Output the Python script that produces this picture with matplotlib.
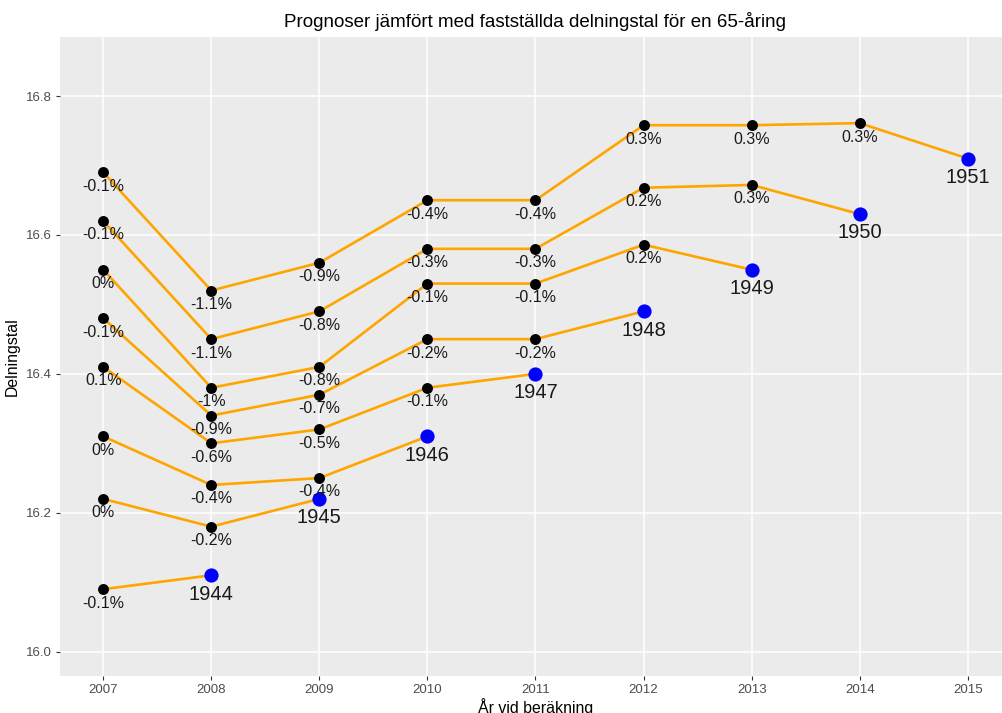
import matplotlib.pyplot as plt

plt.rcParams['font.family'] = ['Liberation Sans', 'DejaVu Sans']

# cohort (birth year) -> forecasts made 2007.. and the final fixed value
cohorts = [1944, 1945, 1946, 1947, 1948, 1949, 1950, 1951]
calc_years = [2007, 2008, 2009, 2010, 2011, 2012, 2013, 2014, 2015]

values = [
    [16.09, 16.11],
    [16.22, 16.18, 16.22],
    [16.31, 16.24, 16.25, 16.31],
    [16.41, 16.30, 16.32, 16.38, 16.40],
    [16.48, 16.34, 16.37, 16.45, 16.45, 16.49],
    [16.55, 16.38, 16.41, 16.53, 16.53, 16.586, 16.55],
    [16.62, 16.45, 16.49, 16.58, 16.58, 16.668, 16.672, 16.63],
    [16.69, 16.52, 16.56, 16.65, 16.65, 16.758, 16.758, 16.761, 16.71],
]

pct_labels = [
    ["-0.1%"],
    ["0%", "-0.2%"],
    ["0%", "-0.4%", "-0.4%"],
    ["0.1%", "-0.6%", "-0.5%", "-0.1%"],
    ["-0.1%", "-0.9%", "-0.7%", "-0.2%", "-0.2%"],
    ["0%", "-1%", "-0.8%", "-0.1%", "-0.1%", "0.2%"],
    ["-0.1%", "-1.1%", "-0.8%", "-0.3%", "-0.3%", "0.2%", "0.3%"],
    ["-0.1%", "-1.1%", "-0.9%", "-0.4%", "-0.4%", "0.3%", "0.3%", "0.3%"],
]

fig = plt.figure(figsize=(10.03, 7.13), dpi=100)
ax = fig.add_axes([60 / 1003, 37 / 713, 951 / 1003, 639 / 713])
ax.set_facecolor('#EBEBEB')
fig.patch.set_facecolor('white')

for coh, vals, labs in zip(cohorts, values, pct_labels):
    xs = calc_years[:len(vals)]
    ax.plot(xs, vals, color='#FFA500', lw=1.9, zorder=2, solid_capstyle='round')
    ax.scatter(xs[:-1], vals[:-1], s=62, color='black', zorder=3, linewidths=0)
    ax.scatter(xs[-1], vals[-1], s=105, color='#0000FF', zorder=3, linewidths=0)
    for x, y, t in zip(xs[:-1], vals[:-1], labs):
        ax.annotate(t, (x, y), xytext=(0, -10), textcoords='offset points',
                    ha='center', va='center', fontsize=11.5, color='#1A1A1A', zorder=4)
    ax.annotate(str(coh), (xs[-1], vals[-1]), xytext=(0, -13.5), textcoords='offset points',
                ha='center', va='center', fontsize=14.5, color='#1A1A1A', zorder=4)

ax.set_xlim(2006.6, 2015.4)
ax.set_ylim(15.965, 16.885)
ax.set_xticks(calc_years)
ax.set_yticks([16.0, 16.2, 16.4, 16.6, 16.8])
ax.set_yticklabels(['16.0', '16.2', '16.4', '16.6', '16.8'])

ax.grid(which='major', color='white', lw=1.1)
ax.set_axisbelow(True)
for s in ax.spines.values():
    s.set_visible(False)
ax.tick_params(which='major', length=3, width=0.8, color='#333333',
               labelsize=9.5, labelcolor='#4D4D4D', pad=3)

ax.set_title('Prognoser jämfört med fastställda delningstal för en 65-åring',
             fontsize=13.5, pad=7)
ax.set_xlabel('År vid beräkning', fontsize=11.4, labelpad=1)
ax.set_ylabel('Delningstal', fontsize=11.4, labelpad=4)

fig.savefig('out.png', dpi=100)
